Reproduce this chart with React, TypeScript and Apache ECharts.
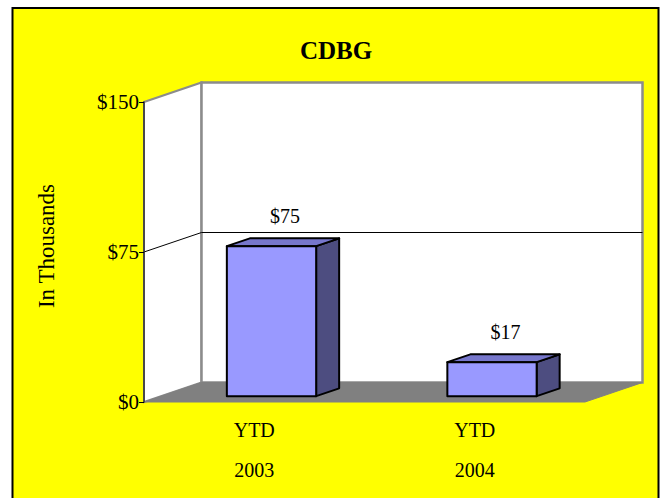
import React, { useEffect, useRef } from "react";
import * as echarts from "echarts";

const categories = ["YTD\n\n2003", "YTD\n\n2004"];
const values = [75, 17];
const yTicks = [0, 75, 150];
const titleText = "CDBG";
const yAxisName = "In Thousands";

const FONT = '"Liberation Serif", "Times New Roman", serif';
const DX = 57.5;
const DY = -19.5;

export default function App() {
  const ref = useRef<HTMLDivElement>(null);
  useEffect(() => {
    if (!ref.current) return;
    const chart = echarts.init(ref.current, null, { renderer: "svg" });

    const frameRender = (params: any, api: any) => {
      const cs = params.coordSys;
      const L = cs.x;
      const R = cs.x + cs.width;
      const yOf = (v: number) => api.coord([0, v])[1];
      const yMin = yOf(yTicks[0]);
      const yMax = yOf(yTicks[yTicks.length - 1]);
      const children: any[] = [];
      children.push({
        type: "polygon",
        shape: { points: [[L, yMax], [L + DX, yMax + DY], [L + DX, yMin + DY], [L, yMin]] },
        style: { fill: "#ffffff", stroke: "#8c8c8c", lineWidth: 2 },
      });
      children.push({
        type: "rect",
        shape: { x: L + DX, y: yMax + DY, width: R - L, height: yMin - yMax },
        style: { fill: "#ffffff", stroke: "#8c8c8c", lineWidth: 2.5 },
      });
      children.push({
        type: "polygon",
        shape: { points: [[L, yMin], [R, yMin], [R + DX, yMin + DY], [L + DX, yMin + DY]] },
        style: { fill: "#808080", stroke: "#808080", lineWidth: 1 },
      });
      yTicks.slice(1, -1).forEach((t) => {
        const y = yOf(t);
        children.push({
          type: "polyline",
          shape: { points: [[L, y], [L + DX, y + DY], [R + DX, y + DY]] },
          style: { fill: "none", stroke: "#000000", lineWidth: 1 },
        });
      });
      return { type: "group", children };
    };

    const barRender = (params: any, api: any) => {
      const idx = api.value(0);
      const v = api.value(1);
      const top = api.coord([idx, v]);
      const base = api.coord([idx, 0]);
      const band = api.size([1, 0])[0];
      const w = band * 0.405;
      const f0 = 0.3;
      const fd = 0.4;
      const ox = DX * f0, oy = DY * f0, dx = DX * fd, dy = DY * fd;
      const x0 = top[0] - w / 2 + ox;
      const x1 = x0 + w;
      const yb = base[1] + oy;
      const yt = top[1] + oy;
      const stroke = { stroke: "#000000", lineWidth: 2, lineJoin: "round" };
      return {
        type: "group",
        children: [
          {
            type: "polygon",
            shape: { points: [[x1, yt], [x1 + dx, yt + dy], [x1 + dx, yb + dy], [x1, yb]] },
            style: { fill: "#4d4d80", ...stroke },
          },
          {
            type: "polygon",
            shape: { points: [[x0, yt], [x1, yt], [x1 + dx, yt + dy], [x0 + dx, yt + dy]] },
            style: { fill: "#7777cc", ...stroke },
          },
          {
            type: "rect",
            shape: { x: x0, y: yt, width: w, height: yb - yt },
            style: { fill: "#9999ff", ...stroke },
          },
          {
            type: "text",
            style: {
              text: "$" + v,
              x: top[0] + ox + dx / 2 + 2,
              y: yt + dy - 12,
              align: "center",
              verticalAlign: "bottom",
              textAlign: "center",
              textVerticalAlign: "bottom",
              font: `20px ${FONT}`,
              fill: "#000000",
            },
          },
        ],
      };
    };

    chart.setOption({
      animation: false,
      backgroundColor: "#ffffff",
      graphic: [
        {
          type: "rect",
          z: -100,
          shape: { x: 12.5, y: 8, width: 646, height: 520 },
          style: { fill: "#ffff00", stroke: "#000000", lineWidth: 2 },
        },
      ],
      title: {
        text: titleText,
        left: 331,
        top: 33,
        textAlign: "center",
        textStyle: { fontFamily: FONT, fontWeight: "bold", fontSize: 25, color: "#000" },
      },
      grid: { left: 144, right: 75, top: 102, bottom: 96, containLabel: false },
      xAxis: {
        type: "category",
        data: categories,
        axisLine: { show: false },
        axisTick: { show: false },
        axisLabel: {
          color: "#000",
          fontFamily: FONT,
          fontSize: 20,
          lineHeight: 20,
          margin: 18,
        },
      },
      yAxis: {
        type: "value",
        min: yTicks[0],
        max: yTicks[yTicks.length - 1],
        interval: yTicks[1] - yTicks[0],
        z: 10,
        name: yAxisName,
        nameLocation: "middle",
        nameRotate: 90,
        nameGap: 86,
        nameTextStyle: { color: "#000", fontFamily: FONT, fontSize: 23, padding: [0, 0, 0, 12] },
        axisLine: { show: true, lineStyle: { color: "#333333", width: 1.5 } },
        axisTick: { show: true, length: 5, lineStyle: { color: "#000", width: 1 } },
        splitLine: { show: false },
        axisLabel: {
          color: "#000",
          fontFamily: FONT,
          fontSize: 21,
          margin: 5,
          formatter: (v: number) => "$" + v,
        },
      },
      series: [
        {
          type: "custom",
          z: 1,
          silent: true,
          renderItem: frameRender,
          data: [[0, 0]],
          encode: { x: 0, y: 1 },
        },
        {
          type: "custom",
          z: 3,
          renderItem: barRender,
          data: values.map((v, i) => [i, v]),
          encode: { x: 0, y: 1 },
        },
      ],
    });
    return () => chart.dispose();
  }, []);
  return (
    <div
      ref={ref}
      style={{ position: "absolute", left: 0, top: 0, width: 660, height: 498 }}
    />
  );
}
